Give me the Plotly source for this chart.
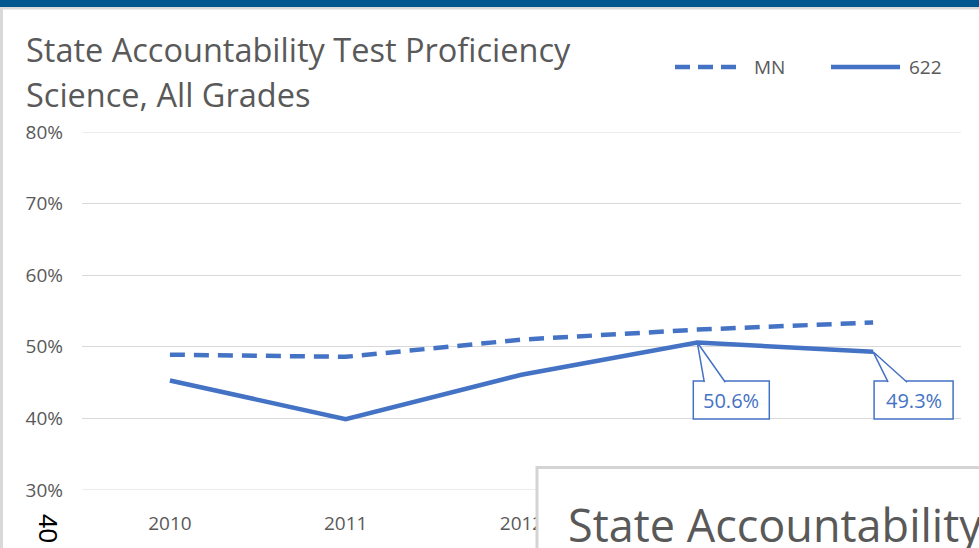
import plotly.graph_objects as go

# ---- data ----
years = ["2010", "2011", "2012", "2013", "2014"]
visible_year_labels = ["2010", "2011", "2012", "", ""]  # 2013/2014 hidden under the overlapping window
mn_values = [48.9, 48.6, 51.0, 52.4, 53.4]
d622_values = [45.3, 39.9, 46.1, 50.6, 49.3]
series_names = ["MN", "622"]
y_ticks = [30, 40, 50, 60, 70, 80]
y_tick_labels = ["30%", "40%", "50%", "60%", "70%", "80%"]
labelled_points = [3, 4]  # indices of 622 points with callouts
title_lines = ["State Accountability Test Proficiency", "Science, All Grades"]
overlay_title = "State Accountability"
stray_text = "40"

# ---- style / geometry ----
W, H = 979, 548
L, R, T, B = 82, 961, 132, 490
PW, PH = R - L, B - T
YMIN, YMAX = 30, 80
px_per_cat = PW / len(years)
px_per_pct = PH / (YMAX - YMIN)
BLUE = "#4472C4"
GRAY_TXT = "#595959"
GRID = "#D9D9D9"
FONT = "Open Sans"


def px2paper_x(px):
    return (px - L) / PW


def px2paper_y(py):
    return (B - py) / PH


def py2val(py):
    return YMIN + (B - py) / px_per_pct


fig = go.Figure()
fig.add_trace(go.Scatter(x=list(range(len(years))), y=mn_values, name=series_names[0], mode="lines",
                         line=dict(color=BLUE, width=4.5, dash="15px,9px"), showlegend=False,
                         hoverinfo="skip"))
fig.add_trace(go.Scatter(x=list(range(len(years))), y=d622_values, name=series_names[1], mode="lines",
                         line=dict(color=BLUE, width=4.5), showlegend=False, hoverinfo="skip"))

shapes = []
annotations = []

# gridlines at the range edges (plotly omits those)
for gv in (y_ticks[0], y_ticks[-1]):
    shapes.append(dict(type="line", xref="paper", yref="y", layer="below",
                       x0=0, x1=1, y0=gv, y1=gv, line=dict(color=GRID, width=1)))

# callouts (box + pointer) for labelled 622 points
callout_style = {3: dict(bl=-4, br=72, pa=7, pb=28), 4: dict(bl=1, br=80, pa=15, pb=34)}
box_top_px, box_bot_px = 381, 419
for i in labelled_points:
    v = d622_values[i]
    st = callout_style[i]
    ytop = py2val(box_top_px)
    ybot = py2val(box_bot_px)
    shapes.append(dict(type="rect", xref="x", yref="y",
                       x0=i + st["bl"] / px_per_cat, x1=i + st["br"] / px_per_cat,
                       y0=ybot, y1=ytop, fillcolor="white",
                       line=dict(color=BLUE, width=1.5)))
    yt = py2val(box_top_px + 1.2)
    xa = i + st["pa"] / px_per_cat
    xb = i + st["pb"] / px_per_cat
    shapes.append(dict(type="path", xref="x", yref="y",
                       path=f"M {xa},{yt} L {i},{v} L {xb},{yt}",
                       fillcolor="white", line=dict(color=BLUE, width=1.5)))
    cx = i + (st["bl"] + st["br"]) / 2 / px_per_cat
    annotations.append(dict(x=cx, y=py2val((box_top_px + box_bot_px) / 2), xref="x", yref="y",
                            text=f"{v:.1f}%", showarrow=False,
                            font=dict(family=FONT, size=20, color=BLUE)))

# manual legend
leg = [(series_names[0], 675, 742, 752, "15px,8px"), (series_names[1], 831, 900, 907, "solid")]
for name, x0, x1, tx, dash in leg:
    shapes.append(dict(type="line", xref="paper", yref="paper",
                       x0=px2paper_x(x0), x1=px2paper_x(x1), y0=px2paper_y(67), y1=px2paper_y(67),
                       line=dict(color=BLUE, width=4.5, dash=dash)))
    annotations.append(dict(x=px2paper_x(tx), y=px2paper_y(67), xref="paper", yref="paper",
                            xanchor="left", yanchor="middle", text=name, showarrow=False,
                            font=dict(family=FONT, size=19, color=GRAY_TXT)))

# title
for k, line in enumerate(title_lines):
    annotations.append(dict(x=px2paper_x(24), y=px2paper_y(50 + 45 * k), xref="paper", yref="paper",
                            xanchor="left", yanchor="middle", text=line, showarrow=False,
                            font=dict(family=FONT, size=32.5, color=GRAY_TXT)))

# frame decorations: top blue band, gray strips
shapes.append(dict(type="rect", xref="paper", yref="paper", layer="above",
                   x0=px2paper_x(-5), x1=px2paper_x(990), y0=px2paper_y(-2), y1=px2paper_y(7),
                   fillcolor="#00568F", line=dict(width=0)))
shapes.append(dict(type="rect", xref="paper", yref="paper", layer="above",
                   x0=px2paper_x(-5), x1=px2paper_x(990), y0=px2paper_y(7), y1=px2paper_y(9.5),
                   fillcolor="#DADADA", line=dict(width=0)))
shapes.append(dict(type="rect", xref="paper", yref="paper", layer="above",
                   x0=px2paper_x(-5), x1=px2paper_x(3), y0=px2paper_y(7), y1=px2paper_y(560),
                   fillcolor="#D9D9D9", line=dict(width=0)))
# overlapping second chart window
shapes.append(dict(type="rect", xref="paper", yref="paper", layer="above",
                   x0=px2paper_x(537), x1=px2paper_x(995), y0=px2paper_y(467.5), y1=px2paper_y(570),
                   fillcolor="white", line=dict(color="#D4D4D4", width=3)))
annotations.append(dict(x=px2paper_x(566), y=px2paper_y(524), xref="paper", yref="paper",
                        xanchor="left", yanchor="middle", text=overlay_title, showarrow=False,
                        font=dict(family=FONT, size=45, color=GRAY_TXT)))
annotations.append(dict(x=px2paper_x(48), y=px2paper_y(528), xref="paper", yref="paper",
                        xanchor="center", yanchor="middle", text=stray_text, showarrow=False,
                        textangle=90, font=dict(family="Liberation Sans", size=26, color="black")))

fig.update_layout(
    width=W, height=H,
    margin=dict(l=L, r=W - R, t=T, b=H - B, pad=0),
    paper_bgcolor="white", plot_bgcolor="white",
    showlegend=False, hovermode=False,
    shapes=shapes, annotations=annotations,
    xaxis=dict(tickmode="array", tickvals=list(range(len(years))), ticktext=visible_year_labels,
               range=[-0.5, len(years) - 0.5], showgrid=False, zeroline=False, showline=False,
               ticks="", ticklabelstandoff=20, tickfont=dict(family=FONT, size=19, color=GRAY_TXT)),
    yaxis=dict(range=[YMIN, YMAX], tickmode="array", tickvals=y_ticks, ticktext=y_tick_labels,
               showgrid=True, gridcolor=GRID, gridwidth=1, zeroline=False, showline=False, ticks="",
               ticklabelstandoff=18, tickfont=dict(family=FONT, size=19, color=GRAY_TXT)),
)

fig.write_html("out.html", config={"displayModeBar": False},
               post_script="document.body.style.margin='0px';document.body.style.overflow='hidden';")
